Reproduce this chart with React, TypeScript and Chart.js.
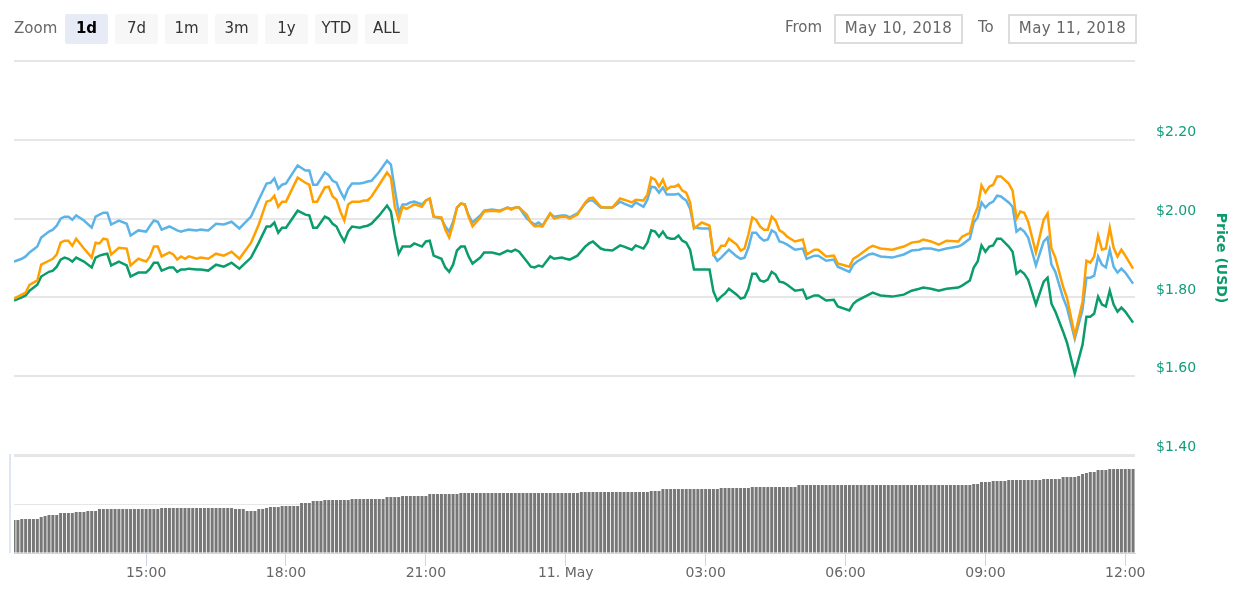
import React, { useEffect, useRef } from "react";
import { Chart, registerables } from "chart.js";

Chart.register(...registerables);

const zoomButtons = ["1d", "7d", "1m", "3m", "1y", "YTD", "ALL"];
const fromDate = "May 10, 2018";
const toDate = "May 11, 2018";

const tickMinutes = [170, 350, 530, 710, 890, 1070, 1250, 1430];
const tickLabels = ["15:00", "18:00", "21:00", "11. May", "03:00", "06:00", "09:00", "12:00"];
const minutesPerStep = 5;

const steps = [
  0, 2, 3, 4, 6, 7, 9, 10, 11, 12,
  13, 14, 15, 16, 18, 20, 21, 22, 23, 24,
  25, 27, 29, 30, 32, 34, 35, 36, 37, 38,
  40, 41, 42, 43, 44, 45, 47, 48, 50, 52,
  54, 56, 58, 61, 63, 65, 66, 67, 68, 69,
  70, 73, 75, 76, 77, 78, 80, 81, 82, 83,
  84, 85, 86, 87, 89, 90, 91, 92, 94, 96,
  97, 98, 99, 100, 101, 102, 103, 105, 106, 107,
  108, 110, 111, 112, 113, 114, 115, 116, 117, 118,
  120, 121, 123, 125, 127, 128, 129, 130, 132, 133,
  134, 135, 136, 138, 139, 141, 142, 143, 145, 147,
  148, 149, 151, 152, 154, 156, 157, 159, 160, 162,
  163, 164, 165, 166, 167, 168, 169, 170, 171, 172,
  173, 174, 175, 177, 179, 180, 181, 182, 183, 184,
  186, 187, 188, 189, 190, 191, 192, 193, 194, 195,
  196, 197, 198, 199, 201, 203, 204, 206, 207, 209,
  211, 212, 215, 216, 217, 220, 221, 223, 226, 229,
  231, 233, 234, 236, 238, 240, 243, 244, 246, 247,
  248, 249, 250, 251, 252, 253, 254, 256, 257, 258,
  259, 260, 261, 263, 265, 266, 267, 268, 270, 271,
  273, 275, 276, 277, 278, 279, 280, 281, 282, 283,
  284, 285, 286, 288,
];

const orangeSeries = [
  1.797, 1.807, 1.812, 1.832, 1.843, 1.883, 1.893, 1.898, 1.909, 1.939,
  1.944, 1.944, 1.931, 1.949, 1.924, 1.901, 1.939, 1.937, 1.949, 1.947,
  1.909, 1.926, 1.924, 1.881, 1.898, 1.891, 1.904, 1.929, 1.929, 1.904,
  1.914, 1.909, 1.896, 1.904, 1.898, 1.904, 1.898, 1.901, 1.898, 1.911,
  1.906, 1.916, 1.898, 1.939, 1.985, 2.043, 2.046, 2.058, 2.03, 2.043,
  2.043, 2.104, 2.091, 2.086, 2.043, 2.043, 2.079, 2.081, 2.056, 2.048,
  2.018, 1.995, 2.036, 2.043, 2.043, 2.046, 2.046, 2.056, 2.086, 2.117,
  2.104, 2.03, 1.997, 2.03, 2.025, 2.03, 2.036, 2.03, 2.046, 2.051,
  2.005, 2.003, 1.972, 1.952, 1.985, 2.028, 2.038, 2.036, 2.005, 1.98,
  2.003, 2.018, 2.02, 2.018, 2.028, 2.023, 2.028, 2.028, 2.01, 1.99,
  1.98, 1.982, 1.98, 2.013, 2.0, 2.005, 2.005, 2.0, 2.01, 2.041,
  2.051, 2.053, 2.03, 2.028, 2.028, 2.051, 2.048, 2.041, 2.048, 2.046,
  2.061, 2.104, 2.099, 2.081, 2.099, 2.074, 2.081, 2.081, 2.086, 2.071,
  2.066, 2.041, 1.975, 1.99, 1.982, 1.909, 1.916, 1.931, 1.931, 1.949,
  1.934, 1.919, 1.924, 1.959, 2.003, 1.997, 1.98, 1.972, 1.972, 2.005,
  1.995, 1.97, 1.964, 1.954, 1.942, 1.947, 1.909, 1.921, 1.921, 1.904,
  1.906, 1.886, 1.878, 1.898, 1.904, 1.926, 1.931, 1.924, 1.921, 1.929,
  1.939, 1.942, 1.947, 1.942, 1.934, 1.944, 1.942, 1.954, 1.964, 2.005,
  2.028, 2.084, 2.066, 2.081, 2.086, 2.107, 2.107, 2.089, 2.071, 2.0,
  2.018, 2.015, 1.992, 1.914, 1.997, 2.013, 1.924, 1.901, 1.827, 1.799,
  1.703, 1.789, 1.893, 1.888, 1.904, 1.957, 1.921, 1.924, 1.977, 1.926,
  1.904, 1.921, 1.906, 1.873,
];

const blueSeries = [
  1.891, 1.898, 1.904, 1.914, 1.929, 1.952, 1.967, 1.972, 1.982, 2.0,
  2.005, 2.005, 1.997, 2.008, 1.995, 1.977, 2.005, 2.01, 2.015, 2.015,
  1.985, 1.995, 1.987, 1.957, 1.97, 1.967, 1.982, 1.995, 1.992, 1.972,
  1.98, 1.975, 1.97, 1.967, 1.97, 1.972, 1.97, 1.972, 1.97, 1.987,
  1.985, 1.992, 1.975, 2.005, 2.048, 2.089, 2.091, 2.102, 2.076, 2.086,
  2.089, 2.135, 2.122, 2.122, 2.086, 2.086, 2.117, 2.11, 2.096, 2.091,
  2.069, 2.051, 2.076, 2.089, 2.089, 2.091, 2.094, 2.096, 2.119, 2.147,
  2.137, 2.074, 2.015, 2.036, 2.036, 2.041, 2.043, 2.036, 2.046, 2.051,
  2.005, 2.0, 1.98, 1.967, 1.992, 2.028, 2.038, 2.036, 2.008, 1.99,
  2.008, 2.02, 2.023, 2.02, 2.028, 2.025, 2.028, 2.028, 2.0, 1.992,
  1.985, 1.99, 1.982, 2.013, 2.005, 2.008, 2.008, 2.003, 2.013, 2.038,
  2.046, 2.046, 2.028, 2.028, 2.028, 2.043, 2.038, 2.03, 2.041, 2.03,
  2.048, 2.081, 2.079, 2.066, 2.079, 2.061, 2.061, 2.061, 2.063, 2.053,
  2.046, 2.025, 1.977, 1.975, 1.975, 1.909, 1.893, 1.901, 1.911, 1.921,
  1.904, 1.898, 1.901, 1.926, 1.964, 1.964, 1.952, 1.944, 1.947, 1.97,
  1.964, 1.942, 1.939, 1.934, 1.921, 1.924, 1.898, 1.906, 1.906, 1.893,
  1.896, 1.878, 1.865, 1.883, 1.891, 1.909, 1.911, 1.904, 1.901, 1.909,
  1.919, 1.921, 1.924, 1.924, 1.919, 1.924, 1.929, 1.934, 1.949, 1.99,
  2.003, 2.041, 2.028, 2.038, 2.043, 2.058, 2.056, 2.041, 2.03, 1.967,
  1.975, 1.967, 1.952, 1.881, 1.942, 1.952, 1.883, 1.865, 1.799, 1.774,
  1.695, 1.769, 1.85, 1.85, 1.855, 1.904, 1.883, 1.876, 1.921, 1.878,
  1.863, 1.873, 1.863, 1.835,
];

const greenSeries = [
  1.792, 1.8, 1.805, 1.817, 1.832, 1.853, 1.865, 1.868, 1.878, 1.896,
  1.901, 1.898, 1.891, 1.901, 1.891, 1.876, 1.901, 1.906, 1.909, 1.911,
  1.881, 1.891, 1.881, 1.853, 1.863, 1.863, 1.873, 1.888, 1.888, 1.868,
  1.876, 1.876, 1.865, 1.871, 1.871, 1.873, 1.871, 1.871, 1.868, 1.883,
  1.878, 1.888, 1.873, 1.901, 1.939, 1.98, 1.98, 1.99, 1.964, 1.977,
  1.977, 2.02, 2.01, 2.008, 1.977, 1.977, 2.005, 2.0, 1.987, 1.98,
  1.959, 1.942, 1.967, 1.98, 1.977, 1.98, 1.982, 1.987, 2.008, 2.033,
  2.018, 1.959, 1.911, 1.929, 1.929, 1.929, 1.937, 1.929, 1.942, 1.944,
  1.906, 1.898, 1.876, 1.865, 1.883, 1.919, 1.929, 1.929, 1.904, 1.886,
  1.901, 1.914, 1.914, 1.909, 1.919, 1.916, 1.921, 1.916, 1.891, 1.878,
  1.876, 1.881, 1.878, 1.904, 1.898, 1.901, 1.898, 1.896, 1.906, 1.929,
  1.937, 1.942, 1.924, 1.921, 1.919, 1.932, 1.929, 1.921, 1.932, 1.924,
  1.939, 1.97, 1.967, 1.954, 1.967, 1.952, 1.949, 1.949, 1.957, 1.944,
  1.939, 1.921, 1.871, 1.871, 1.871, 1.815, 1.792, 1.802, 1.81, 1.822,
  1.807, 1.797, 1.8, 1.822, 1.86, 1.86, 1.843, 1.84, 1.845, 1.865,
  1.858, 1.84, 1.838, 1.832, 1.817, 1.82, 1.797, 1.805, 1.805, 1.792,
  1.794, 1.777, 1.767, 1.784, 1.792, 1.807, 1.812, 1.805, 1.802, 1.807,
  1.817, 1.822, 1.825, 1.822, 1.817, 1.822, 1.825, 1.83, 1.843, 1.876,
  1.891, 1.932, 1.916, 1.929, 1.932, 1.949, 1.949, 1.929, 1.916, 1.86,
  1.868, 1.86, 1.845, 1.782, 1.84, 1.85, 1.784, 1.764, 1.713, 1.685,
  1.607, 1.68, 1.751, 1.751, 1.759, 1.802, 1.782, 1.777, 1.817, 1.782,
  1.764, 1.774, 1.764, 1.736,
];

const volumes = [
  33, 33, 34, 34, 34, 34, 34, 36, 37, 38, 38, 38, 40, 40, 40, 40, 41, 41, 41, 42,
  42, 42, 44, 44, 44, 44, 44, 44, 44, 44, 44, 44, 44, 44, 44, 44, 44, 44, 45, 45,
  45, 45, 45, 45, 45, 45, 45, 45, 45, 45, 45, 45, 45, 45, 45, 45, 45, 44, 44, 44,
  42, 42, 42, 44, 44, 45, 46, 46, 46, 47, 47, 47, 47, 47, 50, 50, 50, 52, 52, 52,
  53, 53, 53, 53, 53, 53, 53, 54, 54, 54, 54, 54, 54, 54, 54, 54, 56, 56, 56, 56,
  57, 57, 57, 57, 57, 57, 57, 59, 59, 59, 59, 59, 59, 59, 59, 60, 60, 60, 60, 60,
  60, 60, 60, 60, 60, 60, 60, 60, 60, 60, 60, 60, 60, 60, 60, 60, 60, 60, 60, 60,
  60, 60, 60, 60, 60, 60, 61, 61, 61, 61, 61, 61, 61, 61, 61, 61, 61, 61, 61, 61,
  61, 61, 61, 61, 62, 62, 62, 64, 64, 64, 64, 64, 64, 64, 64, 64, 64, 64, 64, 64,
  64, 64, 65, 65, 65, 65, 65, 65, 65, 65, 66, 66, 66, 66, 66, 66, 66, 66, 66, 66,
  66, 66, 68, 68, 68, 68, 68, 68, 68, 68, 68, 68, 68, 68, 68, 68, 68, 68, 68, 68,
  68, 68, 68, 68, 68, 68, 68, 68, 68, 68, 68, 68, 68, 68, 68, 68, 68, 68, 68, 68,
  68, 68, 68, 68, 68, 68, 68, 69, 69, 71, 71, 71, 72, 72, 72, 72, 73, 73, 73, 73,
  73, 73, 73, 73, 73, 74, 74, 74, 74, 74, 76, 76, 76, 76, 77, 79, 80, 81, 81, 83,
  83, 83, 84, 84, 84, 84, 84, 84, 84,
];

const ORANGE = "#ffa000";
const BLUE = "#5cb3e8";
const GREEN = "#0a9c6c";
const AXIS_TEAL = "#119c7c";
const GRID = "#e6e6e6";
const AXIS_LINE = "#ccd6eb";
const FONT = '"DejaVu Sans", sans-serif';

const toPoints = (values: number[]) =>
  steps.map((s, i) => ({ x: s * minutesPerStep, y: values[i] }));

const volumeAxisLine = {
  id: "volumeAxisLine",
  afterDraw(chart: any) {
    const v = chart.scales.v;
    const { ctx } = chart;
    ctx.save();
    ctx.fillStyle = "#dfe6f3";
    ctx.fillRect(chart.chartArea.left - 5, v.top - 1, 2, v.bottom - v.top + 1);
    ctx.restore();
  },
};

const buttonStyle = (active: boolean, left: number): React.CSSProperties => ({
  position: "absolute",
  left,
  top: 14,
  width: 43,
  height: 30,
  lineHeight: "28px",
  textAlign: "center",
  background: active ? "#e6ebf5" : "#f7f7f7",
  borderRadius: 2,
  color: active ? "#000" : "#333",
  fontWeight: active ? 700 : 400,
});

const dateBox = (left: number): React.CSSProperties => ({
  position: "absolute",
  left,
  top: 14,
  width: 125,
  height: 26,
  lineHeight: "24px",
  border: "2px solid #dcdcdc",
  textAlign: "center",
  color: "#666",
  letterSpacing: 0.4,
});

const buttonLefts = [65, 115, 165, 215, 265, 315, 365];

export default function App() {
  const ref = useRef<HTMLCanvasElement>(null);

  useEffect(() => {
    document.body.style.margin = "0";
    const chart = new Chart(ref.current!, {
      type: "line",
      plugins: [volumeAxisLine],
      data: {
        datasets: [
          {
            label: "Price (BTC)",
            data: toPoints(orangeSeries),
            borderColor: ORANGE,
            borderWidth: 2.5,
            pointRadius: 0,
            tension: 0,
            xAxisID: "x",
            yAxisID: "y",
            order: 1,
          },
          {
            label: "Price (USD)",
            data: toPoints(blueSeries),
            borderColor: BLUE,
            borderWidth: 2.5,
            pointRadius: 0,
            tension: 0,
            xAxisID: "x",
            yAxisID: "y",
            order: 2,
          },
          {
            label: "Price (ETH)",
            data: toPoints(greenSeries),
            borderColor: GREEN,
            borderWidth: 2.5,
            pointRadius: 0,
            tension: 0,
            xAxisID: "x",
            yAxisID: "y",
            order: 3,
          },
          {
            type: "bar",
            label: "Volume",
            data: volumes.map((v, i) => ({ x: i * minutesPerStep, y: v })),
            backgroundColor: "rgba(112,112,112,0.95)",
            barThickness: 3,
            inflateAmount: 0,
            xAxisID: "x",
            yAxisID: "v",
            order: 4,
          },
        ] as any,
      },
      options: {
        responsive: false,
        animation: false,
        events: [],
        layout: { padding: { left: 14, top: 61, right: 0, bottom: 0 } },
        plugins: { legend: { display: false }, tooltip: { enabled: false } },
        scales: {
          x: {
            type: "linear",
            min: 0,
            max: 1442.5,
            offset: false,
            grid: {
              offset: false,
              drawOnChartArea: false,
              tickLength: 13,
              tickColor: AXIS_LINE,
              tickWidth: 1,
            },
            border: { color: AXIS_LINE, width: 1 },
            afterBuildTicks: (axis: any) => {
              axis.ticks = tickMinutes.map((value) => ({ value }));
            },
            afterFit: (axis: any) => {
              axis.height = 46;
            },
            ticks: {
              autoSkip: false,
              maxRotation: 0,
              padding: -1,
              color: "#666",
              font: { family: FONT, size: 14 },
              callback: (value: any) => tickLabels[tickMinutes.indexOf(Number(value))],
            },
          },
          y: {
            type: "linear",
            position: "right",
            stack: "right",
            stackWeight: 394,
            min: 1.4,
            max: 2.4,
            afterFit: (axis: any) => {
              axis.width = 109;
            },
            grid: {
              color: GRID,
              drawTicks: false,
              lineWidth: (ctx: any) => (Math.abs(ctx.tick.value - 1.4) < 1e-6 ? 3 : 2),
            },
            border: { display: false },
            title: {
              display: true,
              text: "Price (USD)",
              color: GREEN,
              padding: { top: 15, bottom: 0 },
              font: { family: FONT, size: 14, weight: "bold" },
            },
            ticks: {
              stepSize: 0.2,
              padding: 21,
              labelOffset: -7.5,
              color: AXIS_TEAL,
              font: { family: FONT, size: 14 },
              callback: (value: any) =>
                Math.abs(Number(value) - 2.4) < 1e-6 ? "" : "$" + Number(value).toFixed(2),
            },
          },
          v: {
            type: "linear",
            position: "right",
            stack: "right",
            stackWeight: 98,
            min: 0,
            max: 98,
            afterFit: (axis: any) => {
              axis.width = 109;
            },
            grid: {
              color: GRID,
              drawTicks: false,
              lineWidth: 1,
            },
            border: { display: false },
            ticks: { display: false, stepSize: 49 },
          },
        },
      } as any,
    });
    return () => chart.destroy();
  }, []);

  return (
    <div
      style={{
        position: "fixed",
        left: 0,
        top: 0,
        width: 1244,
        height: 599,
        background: "#fff",
        fontFamily: FONT,
        fontSize: 15,
      }}
    >
      <canvas ref={ref} width={1244} height={599} style={{ display: "block" }} />
      <span style={{ position: "absolute", left: 14, top: 19, color: "#666" }}>Zoom</span>
      {zoomButtons.map((b, i) => (
        <div key={b} style={buttonStyle(i === 0, buttonLefts[i])}>
          {b}
        </div>
      ))}
      <span style={{ position: "absolute", left: 785, top: 18, color: "#666" }}>From</span>
      <div style={dateBox(834)}>{fromDate}</div>
      <span style={{ position: "absolute", left: 978, top: 18, color: "#666" }}>To</span>
      <div style={dateBox(1008)}>{toDate}</div>
    </div>
  );
}
